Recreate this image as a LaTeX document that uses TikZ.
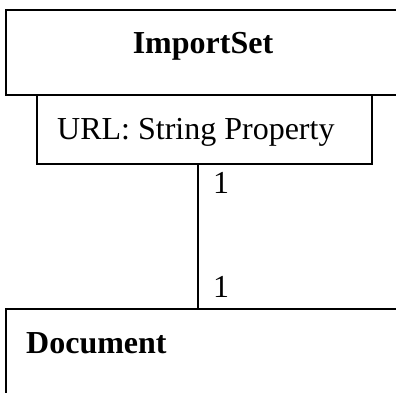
\documentclass[tikz,border=0pt]{standalone}
\usepackage{fontspec}
\setmainfont{Liberation Serif}
\begin{document}
\begin{tikzpicture}[x=1pt,y=-1pt,
  box/.style={draw, line width=2pt, inner sep=0pt, anchor=north west},
  txt/.style={font=\fontsize{32}{38}\selectfont, inner sep=0pt},
  link/.style={line width=2pt}]
\useasboundingbox (0,0) rectangle (396,392);
\clip (0,0) rectangle (396,392);
% class ImportSet with its property compartment
\node[box, minimum width=396pt, minimum height=85pt] (importset) at (5,9) {};
\node[txt, font=\fontsize{32}{38}\selectfont\bfseries, anchor=base] (importsetname) at (203,53) {ImportSet};
\node[box, minimum width=335pt, minimum height=69pt] (prop) at (36,94) {};
\node[txt, anchor=base west] (proptext) at (57,139) {URL: String Property};
% class Document
\node[box, minimum width=400pt, minimum height=120pt] (doc) at (5,308) {};
\node[txt, font=\fontsize{32}{38}\selectfont\bfseries, anchor=base west] (docname) at (26,353) {Document};
% one-to-one association
\coordinate (lx) at (198,0);
\draw[link] (prop.south -| lx) -- (doc.north -| lx);
\node[txt, anchor=base west] (m1) at (213,193) {1};
\node[txt, anchor=base west] (m2) at (213,297) {1};
\end{tikzpicture}
\end{document}
